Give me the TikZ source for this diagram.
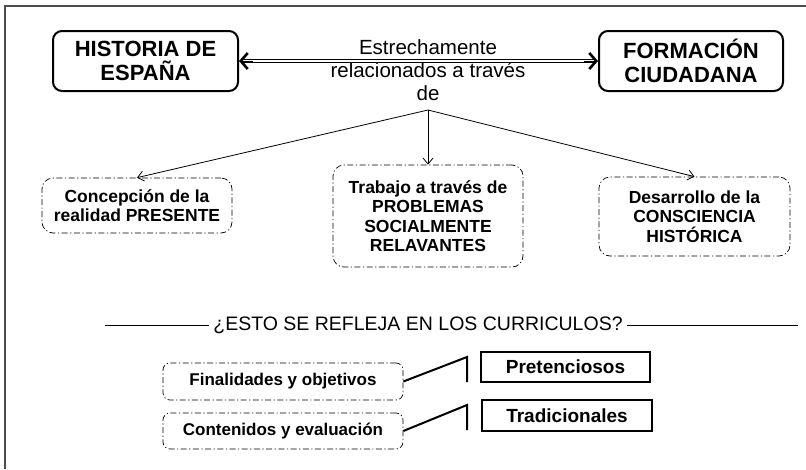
\documentclass[tikz,border=0pt]{standalone}
\usepackage{fontspec}
\setmainfont{Liberation Sans}
\usetikzlibrary{arrows.meta}

\begin{document}
\begin{tikzpicture}[x=1pt,y=-1pt,
  caja/.style={draw,line width=2pt,rounded corners=9pt,align=center,font=\fontsize{22}{24}\selectfont\bfseries,minimum width=185pt,minimum height=60pt},
  idea/.style={draw,line width=0.7pt,dash pattern=on 6pt off 2.5pt on 1.2pt off 2.5pt,rounded corners=11pt,align=center,font=\fontsize{17.5}{19.5}\selectfont\bfseries},
  juicio/.style={draw,line width=2pt,align=center,font=\fontsize{19}{21}\selectfont\bfseries,minimum width=170pt,minimum height=30pt},
  flecha/.style={line width=0.8pt,-{Straight Barb[length=6pt,width=10pt]}},
  punta/.style={line width=0.1pt,-{Straight Barb[length=7pt,width=16pt,line width=2.6pt]}},
  barra/.style={line width=2pt}]

\useasboundingbox (0,0) rectangle (806,469);
\draw[line width=2pt,black!70] (5,469) -- (5,6) -- (806,6);

\node[caja] (hist) at (145.5,61) {HISTORIA DE\\ESPAÑA};
\node[caja,minimum width=184pt] (form) at (691,61) {FORMACIÓN\\CIUDADANA};
\node[align=center,font=\fontsize{20.5}{23}\selectfont] (rel) at (428,70) {Estrechamente\\relacionados a través\\de};
\draw[double,double distance=2.5pt,line width=0.9pt,shorten <=3pt,shorten >=3pt] (hist) -- (form);
\draw[punta] ([xshift=14pt]hist.east) -- (hist.east);
\draw[punta] ([xshift=-14pt]form.west) -- (form.west);

\coordinate (rama) at (428,110);
\node[idea,minimum width=190pt,minimum height=55pt] (concep) at (137,205.5) {Concepción de la\\realidad PRESENTE};
\node[idea,minimum width=190pt,minimum height=102pt] (trabajo) at (428,216) {Trabajo a través de\\PROBLEMAS\\SOCIALMENTE\\RELAVANTES};
\node[idea,minimum width=191pt,minimum height=79pt] (desarr) at (694.5,216.5) {Desarrollo de la\\CONSCIENCIA\\HISTÓRICA};
\draw[flecha] (rama) -- (concep.north);
\draw[flecha] (rama) -- (trabajo.north);
\draw[flecha] (rama) -- (desarr.north);

\node[font=\fontsize{19.5}{22}\selectfont,inner sep=4pt] (pregunta) at (418,325) {¿ESTO SE REFLEJA EN LOS CURRICULOS?};
\coordinate (izq) at (105,325);
\coordinate (der) at (798,325);
\draw[line width=0.8pt] (izq) -- (pregunta.west);
\draw[line width=0.8pt] (pregunta.east) -- (der);

\node[idea,rounded corners=7pt,font=\fontsize{17}{19}\selectfont\bfseries,minimum width=240pt,minimum height=37pt] (final) at (283,381.5) {Finalidades y objetivos};
\node[idea,rounded corners=7pt,font=\fontsize{17}{19}\selectfont\bfseries,minimum width=240pt,minimum height=36pt] (conten) at (283,431) {Contenidos y evaluación};
\node[juicio,minimum width=169pt] (pret) at (565.5,367) {Pretenciosos};
\node[juicio,minimum height=31pt] (trad) at (567,415.5) {Tradicionales};

\coordinate (b1a) at (467,357);
\coordinate (b1b) at (467,382);
\coordinate (b2a) at (467,405);
\coordinate (b2b) at (467,430);
\draw[barra] (final.east) -- (b1a) -- (b1b);
\draw[barra] (conten.east) -- (b2a) -- (b2b);

\end{tikzpicture}
\end{document}
